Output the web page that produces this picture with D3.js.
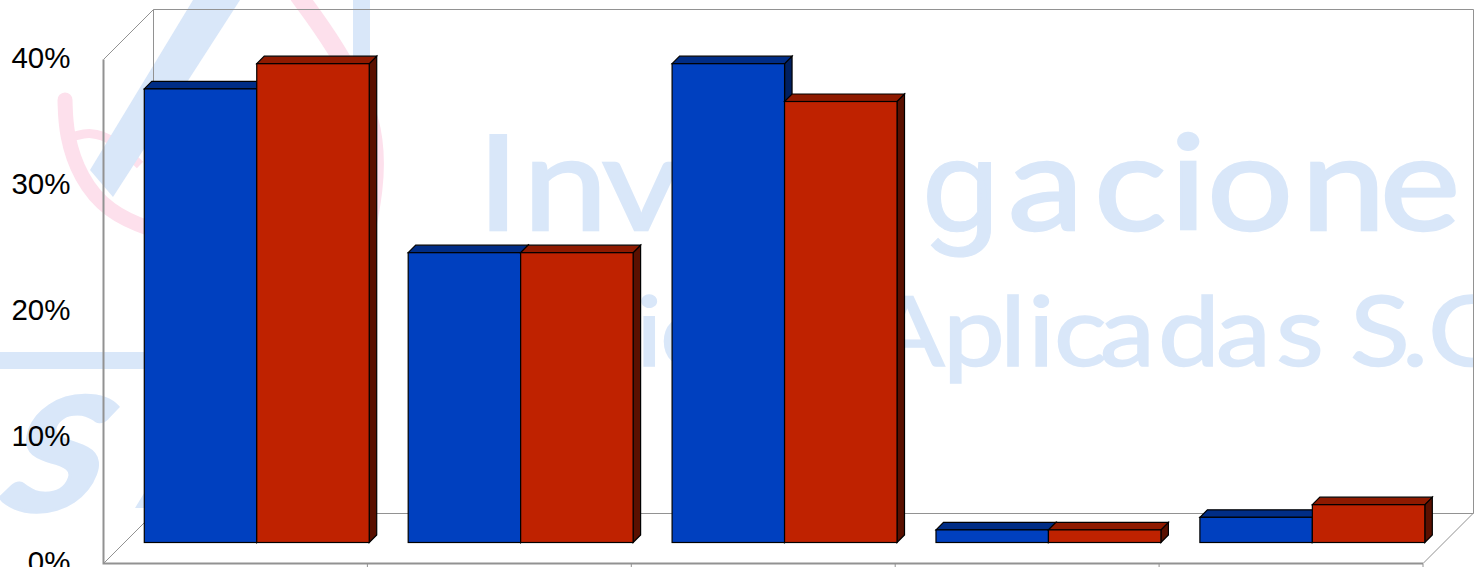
<!DOCTYPE html>
<html><head><meta charset="utf-8">
<script src="https://d3js.org/d3.v7.min.js"></script>
<style>html,body{margin:0;padding:0;background:#fff;overflow:hidden}svg{display:block}</style>
</head><body><svg id="c" width="1474" height="567"></svg>
<script>
const categories = ["A","B","C","D","E"];
const seriesBlue = [36,23,38,1,2];
const seriesRed = [38,23,35,1,3];
const yTicks = [0,10,20,30,40];

const svg = d3.select("#c");
const W = 1474, H = 567;
const wmBlue = "#d9e7f9", wmPink = "#fde0ec";

// watermark
const wm = svg.append("g");
const curve = d3.line().curve(d3.curveBasis);
wm.append("path").attr("d", curve([[65,100],[65,100],[66,135],[80,178],[108,212],[150,230],[190,240]]))
  .attr("fill","none").attr("stroke",wmPink).attr("stroke-width",15).attr("stroke-linecap","round");
wm.append("path").attr("d", curve([[75,136],[90,132],[112,138],[140,165]]))
  .attr("fill","none").attr("stroke",wmPink).attr("stroke-width",9);
wm.append("path").attr("d", curve([[298,-5],[335,45],[376,120],[376,190],[360,260]]))
  .attr("fill","none").attr("stroke",wmPink).attr("stroke-width",18);
wm.append("path").attr("d","M90,170 L193,0 L240,0 L113,197 Z").attr("fill",wmBlue);
wm.append("rect").attr("x",353).attr("y",0).attr("width",17).attr("height",70).attr("fill",wmBlue);
wm.append("rect").attr("x",0).attr("y",352).attr("width",150).attr("height",17).attr("fill",wmBlue);
wm.append("path").attr("d","M135,508 L146,490 L146,508 Z").attr("fill",wmBlue);
wm.append("text").text("S").attr("transform","translate(-8,511) skewX(-20) scale(1.1,1)")
  .attr("font-family","Lato").attr("font-weight",900)
  .attr("font-size",158).attr("fill",wmBlue).attr("stroke",wmBlue).attr("stroke-width",3);

function pieces(str, xs, baseline, size, sx, sw, font){
  const scaled = xs.map(v=>v/sx).join(" ");
  wm.append("text").text(str).attr("x",scaled).attr("y",0)
    .attr("transform",`translate(0,${baseline}) scale(${sx},1)`)
    .attr("font-family",font||"Lato").attr("font-size",size)
    .attr("fill",wmBlue).attr("stroke",wmBlue).attr("stroke-width",sw);
}
pieces("Inv",[477,523,602],230,132,1.15,2.5);
pieces("g",[921],230,128,1.1,1,"Roboto");
pieces("aciones",[1008,1094,1170,1207,1301,1380,1470],230,132,1.15,2.5);
pieces("ic",[636,660],366,96,1.15,1.5);
pieces("Aplicadas",[870,943,1000,1028,1054,1100,1158,1216,1276],366,96,1.15,1.5);
pieces("S.C",[1350,1402,1428],366,96,1.15,1.5);

// scales
const depthWall = 50, depthBar = 7.5, barShift = 21;
const y = d3.scaleLinear().domain([0,40]).range([563.5,59.5]);
const x0 = d3.scaleBand().domain(categories).range([103.5,1423]).paddingInner(0).paddingOuter(0);
const x1 = d3.scaleBand().domain(["blue","red"]).range([0,x0.bandwidth()]).paddingInner(0).paddingOuter(0.1733);

// frame
const grid = "#929292";
const frame = svg.append("g").attr("fill","none").attr("stroke",grid).attr("stroke-width",1);
const xL = x0.range()[0], xR = x0.range()[1], yB = y(0), yT = y(40);
frame.append("path").attr("d",`M${xL},${yT}L${xL+depthWall},${yT-depthWall}H${W-0.5}V${yB-depthWall}H${xL+depthWall}V${yT-depthWall}`);
frame.append("path").attr("d",`M${xL},${yB}L${xL+depthWall},${yB-depthWall}M${xR},${yB}L${xR+depthWall},${yB-depthWall}`);
frame.append("path").attr("d",`M${xL},${yT}V${yB}H${xR}`).attr("stroke-width",2);

// x ticks
frame.selectAll("line.t").data(categories).join("line")
  .attr("class","t")
  .attr("x1",d=>x0(d)+x0.bandwidth()).attr("x2",d=>x0(d)+x0.bandwidth())
  .attr("y1",yB).attr("y2",H).attr("stroke-width",1);

// y axis labels
const ax = svg.append("g").attr("transform",`translate(${xL-33},0)`)
  .call(d3.axisLeft(y).tickValues(yTicks).tickSize(0).tickFormat(d=>d+"%"));
ax.select(".domain").remove();
ax.selectAll("text").attr("font-family","'Liberation Sans',Arial,sans-serif")
  .attr("font-size",29.5).attr("fill","#000").attr("x",0).attr("dy",0).attr("y",8);

// bars
const palette = {blue:{front:"#0040bf",top:"#002d86",side:"#002060"},red:{front:"#bf2200",top:"#8f1a00",side:"#5a1000"}};
const rows = categories.flatMap((c,i)=>[
  {c,k:"blue",v:seriesBlue[i]},{c,k:"red",v:seriesRed[i]}
]);
const bars = svg.append("g").attr("stroke","#000").attr("stroke-width",1.2).attr("stroke-linejoin","miter");
const bar = bars.selectAll("g").data(rows).join("g")
  .attr("transform",d=>`translate(${x0(d.c)+x1(d.k)+barShift+0.3},${-barShift})`);
const bw = x1.bandwidth();
bar.append("path").attr("fill",d=>palette[d.k].side)
  .attr("d",d=>`M${bw},${y(d.v)}l${depthBar},${-depthBar}V${y(0)-depthBar}l${-depthBar},${depthBar}Z`);
bar.append("path").attr("fill",d=>palette[d.k].top)
  .attr("d",d=>`M0,${y(d.v)}l${depthBar},${-depthBar}h${bw}l${-depthBar},${depthBar}Z`);
bar.append("rect").attr("fill",d=>palette[d.k].front)
  .attr("x",0).attr("width",bw).attr("y",d=>y(d.v)).attr("height",d=>y(0)-y(d.v));
</script></body></html>
